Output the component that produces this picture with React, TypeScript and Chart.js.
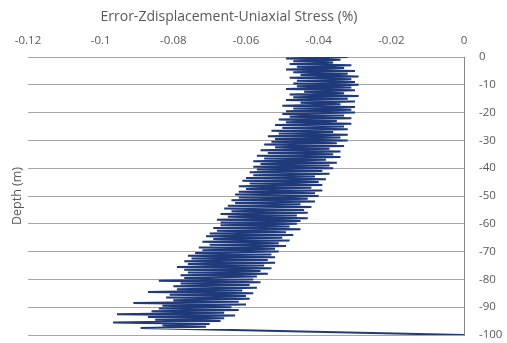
import React, { useEffect, useRef } from "react";
import { Chart, registerables } from "chart.js";

Chart.register(...registerables);

const chartTitle = "Error-Zdisplacement-Uniaxial Stress (%)";
const depthTitle = "Depth (m)";

const xTicks = [-0.12, -0.1, -0.08, -0.06, -0.04, -0.02, 0];
const yTicks = [0, -10, -20, -30, -40, -50, -60, -70, -80, -90, -100];

const depths = [
  0, -0.5, -1, -1.5, -2, -2.5, -3, -3.5, -4, -4.5, -5, -5.5, -6, -6.5, -7, -7.5, -8, -8.5, -9, -9.5,
  -10, -10.5, -11, -11.5, -12, -12.5, -13, -13.5, -14, -14.5, -15, -15.5, -16, -16.5, -17, -17.5, -18, -18.5, -19, -19.5,
  -20, -20.5, -21, -21.5, -22, -22.5, -23, -23.5, -24, -24.5, -25, -25.5, -26, -26.5, -27, -27.5, -28, -28.5, -29, -29.5,
  -30, -30.5, -31, -31.5, -32, -32.5, -33, -33.5, -34, -34.5, -35, -35.5, -36, -36.5, -37, -37.5, -38, -38.5, -39, -39.5,
  -40, -40.5, -41, -41.5, -42, -42.5, -43, -43.5, -44, -44.5, -45, -45.5, -46, -46.5, -47, -47.5, -48, -48.5, -49, -49.5,
  -50, -50.5, -51, -51.5, -52, -52.5, -53, -53.5, -54, -54.5, -55, -55.5, -56, -56.5, -57, -57.5, -58, -58.5, -59, -59.5,
  -60, -60.5, -61, -61.5, -62, -62.5, -63, -63.5, -64, -64.5, -65, -65.5, -66, -66.5, -67, -67.5, -68, -68.5, -69, -69.5,
  -70, -70.5, -71, -71.5, -72, -72.5, -73, -73.5, -74, -74.5, -75, -75.5, -76, -76.5, -77, -77.5, -78, -78.5, -79, -79.5,
  -80, -80.5, -81, -81.5, -82, -82.5, -83, -83.5, -84, -84.5, -85, -85.5, -86, -86.5, -87, -87.5, -88, -88.5, -89, -89.5,
  -90, -90.5, -91, -91.5, -92, -92.5, -93, -93.5, -94, -94.5, -95, -95.5, -96, -96.5, -97, -97.5, -100,
];

const err0to10 = [-0.032, -0.049, -0.034, -0.047, -0.036, -0.048, -0.031, -0.046, -0.033, -0.049, -0.030, -0.047, -0.032, -0.045, -0.029, -0.048, -0.031, -0.046, -0.030, -0.047];
const err10to20 = [-0.029, -0.046, -0.031, -0.049, -0.030, -0.044, -0.033, -0.048, -0.029, -0.047, -0.032, -0.049, -0.030, -0.045, -0.034, -0.050, -0.030, -0.047, -0.031, -0.049];
const err20to30 = [-0.030, -0.050, -0.033, -0.048, -0.031, -0.051, -0.035, -0.049, -0.031, -0.052, -0.033, -0.050, -0.032, -0.053, -0.036, -0.051, -0.032, -0.054, -0.034, -0.052];
const err30to40 = [-0.032, -0.053, -0.035, -0.055, -0.033, -0.052, -0.037, -0.056, -0.034, -0.054, -0.036, -0.057, -0.034, -0.055, -0.038, -0.058, -0.035, -0.056, -0.037, -0.058];
const err40to50 = [-0.036, -0.057, -0.039, -0.059, -0.037, -0.058, -0.041, -0.060, -0.038, -0.061, -0.040, -0.059, -0.039, -0.062, -0.042, -0.060, -0.039, -0.062, -0.041, -0.063];
const err50to60 = [-0.040, -0.062, -0.043, -0.064, -0.041, -0.063, -0.045, -0.065, -0.042, -0.066, -0.044, -0.064, -0.043, -0.067, -0.046, -0.065, -0.043, -0.068, -0.045, -0.067];
const err60to70 = [-0.046, -0.067, -0.048, -0.069, -0.045, -0.068, -0.049, -0.070, -0.047, -0.071, -0.050, -0.069, -0.048, -0.072, -0.051, -0.070, -0.049, -0.073, -0.052, -0.072];
const err70to80 = [-0.051, -0.074, -0.053, -0.076, -0.052, -0.075, -0.054, -0.077, -0.052, -0.076, -0.055, -0.079, -0.053, -0.077, -0.056, -0.076, -0.054, -0.078, -0.057, -0.077];
const err80to90 = [-0.058, -0.084, -0.056, -0.078, -0.059, -0.080, -0.057, -0.079, -0.061, -0.087, -0.058, -0.081, -0.060, -0.082, -0.059, -0.080, -0.062, -0.091, -0.060, -0.083];
const err90to100 = [-0.064, -0.084, -0.062, -0.086, -0.066, -0.0955, -0.063, -0.087, -0.066, -0.085, -0.067, -0.0966, -0.070, -0.083, -0.071, -0.089, 0];

const errors = [
  ...err0to10, ...err10to20, ...err20to30, ...err30to40, ...err40to50,
  ...err50to60, ...err60to70, ...err70to80, ...err80to90, ...err90to100,
];

const FONT = "'Open Sans', sans-serif";
const TEXT = "#595959";

const titlesPlugin = {
  id: "customTitles",
  afterDraw(chart: any) {
    const { ctx, chartArea } = chart;
    ctx.save();
    ctx.fillStyle = TEXT;
    ctx.font = `14px ${FONT}`;
    ctx.textAlign = "center";
    ctx.textBaseline = "middle";
    ctx.fillText(chartTitle, 229, 17);
    ctx.translate(17.5, (chartArea.top + chartArea.bottom) / 2);
    ctx.rotate(-Math.PI / 2);
    ctx.font = `12.5px ${FONT}`;
    ctx.fillText(depthTitle, 0, 0);
    ctx.restore();
  },
};

const bgPlugin = {
  id: "bg",
  beforeDraw(chart: any) {
    const { ctx, width, height } = chart;
    ctx.save();
    ctx.fillStyle = "#ffffff";
    ctx.fillRect(0, 0, width, height);
    ctx.restore();
  },
};

export default function App() {
  const ref = useRef<HTMLCanvasElement | null>(null);

  useEffect(() => {
    document.body.style.margin = "0";
    if (!ref.current) return;
    const points = depths.map((d, i) => ({ x: errors[i], y: d }));
    const chart = new Chart(ref.current, {
      type: "line",
      data: {
        datasets: [
          {
            data: points,
            borderColor: "#1f3a7a",
            borderWidth: 2,
            pointRadius: 0,
            fill: false,
            tension: 0,
          },
        ],
      },
      options: {
        animation: false,
        responsive: false,
        maintainAspectRatio: false,
        layout: { padding: { left: 28, top: 0, right: 0, bottom: 8 } },
        plugins: { legend: { display: false }, tooltip: { enabled: false } },
        scales: {
          x: {
            type: "linear",
            position: "top",
            min: -0.12,
            max: 0,
            afterBuildTicks: (scale: any) => {
              scale.ticks = xTicks.map((v) => ({ value: v }));
            },
            afterFit: (scale: any) => {
              scale.height = 57;
              scale.paddingLeft = 0;
              scale.paddingRight = 0;
            },
            ticks: {
              color: TEXT,
              font: { family: FONT, size: 11.5 },
              padding: 9,
              maxRotation: 0,
              callback: (v: any) => String(Math.round(Number(v) * 100) / 100),
            },
            grid: { display: false, drawTicks: false },
            border: { display: false },
          },
          y: {
            type: "linear",
            position: "right",
            min: -100,
            max: 0,
            afterBuildTicks: (scale: any) => {
              scale.ticks = yTicks.map((v) => ({ value: v }));
            },
            afterFit: (scale: any) => {
              scale.width = 43;
              scale.paddingTop = 0;
              scale.paddingBottom = 0;
            },
            ticks: {
              color: TEXT,
              font: { family: FONT, size: 11.5 },
              padding: 15,
            },
            grid: { color: "#a6a6a6", lineWidth: 1, drawTicks: false },
            border: { display: true, color: "#868686", width: 1 },
          },
        },
      },
      plugins: [bgPlugin, titlesPlugin],
    });
    return () => chart.destroy();
  }, []);

  return (
    <div style={{ position: "absolute", left: 0, top: 0, width: 507, height: 343 }}>
      <canvas ref={ref} width={507} height={343} style={{ width: 507, height: 343 }} />
    </div>
  );
}
